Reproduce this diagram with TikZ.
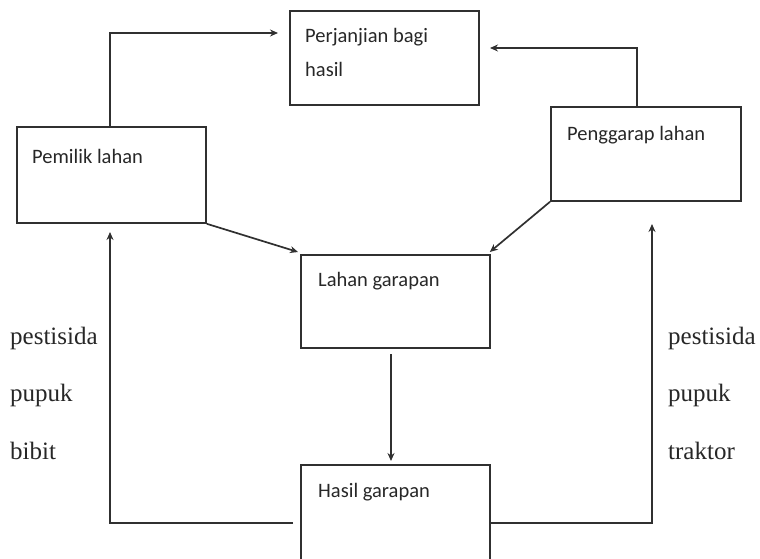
\documentclass[tikz,border=0pt]{standalone}
\usepackage{fontspec}
\setmainfont{Liberation Serif}
\newfontfamily\boxfont{Carlito}
\usetikzlibrary{arrows.meta,calc}
\definecolor{ink}{HTML}{303030}
\tikzset{
  box/.style={draw=ink, line width=1.8pt, rectangle, inner sep=0pt},
  boxtxt/.style={anchor=base west, inner sep=0pt, font=\boxfont\fontsize{20.5}{24}\selectfont, text=ink!80!black},
  itemtxt/.style={anchor=base west, inner sep=0pt, font=\fontsize{25}{30}\selectfont, text=ink!80!black},
  conn/.style={draw=ink, line width=1.7pt, -{Stealth[length=8pt,width=7pt]}},
  plain/.style={draw=ink, line width=1.7pt}
}
\begin{document}
\begin{tikzpicture}[x=1pt,y=-1pt]
\useasboundingbox (0,0) rectangle (760,559);
\clip (0,0) rectangle (760,559);
% boxes
\node[box, minimum width=189pt, minimum height=94pt, anchor=north west] (per) at (289,10) {};
\node[box, minimum width=189pt, minimum height=96pt, anchor=north west] (pem) at (16,126) {};
\node[box, minimum width=190pt, minimum height=94pt, anchor=north west] (pen) at (550,106) {};
\node[box, minimum width=189pt, minimum height=93pt, anchor=north west] (lah) at (300,254) {};
\node[box, minimum width=189pt, minimum height=110pt, anchor=north west] (has) at (300,464) {};
% box texts
\node[boxtxt] (tper1) at (305,43) {Perjanjian bagi};
\node[boxtxt] (tper2) at (305,77) {hasil};
\node[boxtxt] (tpem) at (32,164) {Pemilik lahan};
\node[boxtxt] (tpen) at (567,140) {Penggarap lahan};
\node[boxtxt] (tlah) at (318,286) {Lahan garapan};
\node[boxtxt] (thas) at (318,497) {Hasil garapan};
% side labels
\node[itemtxt] (l1) at (10,344) {pestisida};
\node[itemtxt] (l2) at (10,401) {pupuk};
\node[itemtxt] (l3) at (10,459) {bibit};
\node[itemtxt] (r1) at (668,344) {pestisida};
\node[itemtxt] (r2) at (668,401) {pupuk};
\node[itemtxt] (r3) at (668,459) {traktor};
% coordinates for connector ends
\coordinate (perL) at (278,33);
\coordinate (perR) at (490,48);
\coordinate (pemB) at (110,232);
\coordinate (penB) at (652,224);
\coordinate (midS) at (391,354);
\coordinate (midE) at (391,461);
% connectors
\draw[conn] (pem.north west -| 110,0) |- (perL);
\draw[conn] (pen.north west -| 637,0) |- (perR);
\draw[conn] (pem.south east) -- ($(lah.north west)+(-2,-2)$);
\draw[conn] (pen.south west) -- ($(lah.north east)+(-1,-2)$);
\draw[conn] (midS) -- (midE);
\draw[conn] ($(has.west)+(-7,3)$) -| (pemB);
\draw[conn] ($(has.east)+(0,3)$) -| (penB);
\end{tikzpicture}
\end{document}
